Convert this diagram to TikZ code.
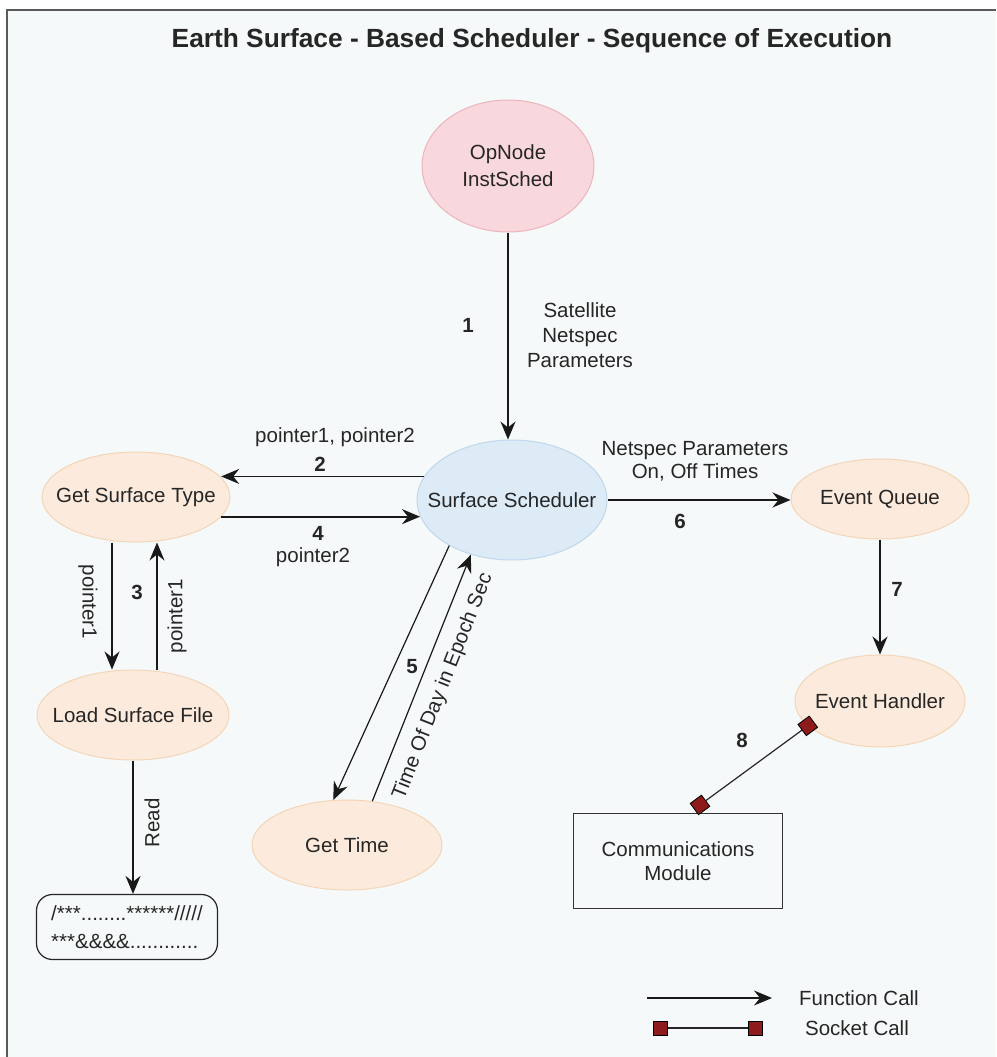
\documentclass[tikz,border=0pt]{standalone}
\usepackage{fontspec}
\setmainfont{Liberation Sans}
\usetikzlibrary{shapes.geometric, arrows.meta, positioning}
\definecolor{pinkfill}{HTML}{F9D8DD}
\definecolor{pinkedge}{HTML}{EDB4BC}
\definecolor{bluefill}{HTML}{DDEBF7}
\definecolor{blueedge}{HTML}{BFD7EC}
\definecolor{tanfill}{HTML}{FCEBDC}
\definecolor{tanedge}{HTML}{F3D5B7}
\definecolor{sockred}{HTML}{8E1B1B}
\definecolor{canvas}{HTML}{F6F9F9}
\definecolor{framegray}{HTML}{5A5A5A}
\begin{document}
\begin{tikzpicture}[x=1pt, y=-1pt,
    every node/.style={font=\fontsize{20.5}{25}\selectfont, inner sep=0pt, text=black!85},
    every label/.style={font=\fontsize{20.5}{27}\selectfont, inner sep=0pt, text=black!85, align=center},
    oval/.style={ellipse, draw=tanedge, fill=tanfill, line width=1pt},
    fcall/.style={-{Stealth[length=18pt,width=15pt,inset=6pt]}, line width=1.2pt, black!90},
    scall/.style={line width=1.2pt, black!85},
    sockmark/.style={rectangle, draw=black, fill=sockred, minimum size=14pt, line width=0.8pt},
    stepno/.style={font=\fontsize{20.5}{25}\selectfont\bfseries}]
    \useasboundingbox (0,0) rectangle (996,1057);
    \fill[white] (0,0) rectangle (996,1057);
    \fill[canvas] (7,11) rectangle (996,1057);
    \draw[framegray, line width=2pt] (7,1057) -- (7,10) -- (996,10);
    \node[font=\fontsize{26.3}{30}\selectfont\bfseries, anchor=base] (title) at (532,48) {Earth Surface - Based Scheduler - Sequence of Execution};
    \node[oval, draw=pinkedge, fill=pinkfill, minimum width=172pt, minimum height=132pt, label=center:{OpNode\\InstSched}] (opnode) at (508,166) {};
    \node[oval, draw=blueedge, fill=bluefill, minimum width=190pt, minimum height=120pt, label=center:{Surface Scheduler}] (sched) at (512,500) {};
    \node[oval, minimum width=188pt, minimum height=90pt, label=center:{Get Surface Type}] (gst) at (136,497) {};
    \node[oval, minimum width=192pt, minimum height=90pt, label=center:{Load Surface File}] (lsf) at (133,715) {};
    \node[oval, minimum width=190pt, minimum height=90pt, label=center:{Get Time}] (gettime) at (347,845) {};
    \node[oval, minimum width=178pt, minimum height=80pt, label=center:{Event Queue}] (equeue) at (880,499) {};
    \node[oval, minimum width=170pt, minimum height=92pt, label=center:{Event Handler}] (ehandler) at (880,701) {};
    \node[draw=black!80, line width=1.2pt, minimum width=209pt, minimum height=95pt, align=center, font=\fontsize{20.5}{24}\selectfont] (comm) at (678,861) {Communications\\Module};
    \node[draw=black!85, line width=1.2pt, rounded corners=16pt, minimum width=181pt, minimum height=65pt, align=left, font=\fontsize{20.5}{28}\selectfont] (rawfile) at (127,927) {/***........******/////\\***\&\&\&\&............};
    \draw[fcall] (opnode.south) -- (opnode.south |- sched.north);
    \node[stepno] (n1) at (468,325) {1};
    \node[align=center] (satlbl) at (580,335) {Satellite\\Netspec\\Parameters};
    \draw[fcall] (sched.165) -- (gst.13 |- sched.165);
    \node[stepno] (n2) at (320,464) {2};
    \node (ptr12) at (335,437) {pointer1, pointer2};
    \draw[fcall, line width=2.2pt] (gst.-13) -- (sched.190 |- gst.-13);
    \node[stepno] (n4) at (318,533) {4};
    \node (ptr2) at (313,557) {pointer2};
    \draw[fcall] ([xshift=-24pt]gst.south) -- ([xshift=-24pt]gst.south |- lsf.north);
    \draw[fcall] ([xshift=24pt]lsf.north) -- ([xshift=24pt]lsf.north |- gst.south);
    \node[rotate=-90] (ptrdown) at (88,602) {pointer1};
    \node[stepno] (n3) at (137,592) {3};
    \node[rotate=90] (ptrup) at (177,616) {pointer1};
    \draw[fcall] (lsf.south) -- (lsf.south |- rawfile.north);
    \node[rotate=90] (readlbl) at (152,823) {Read};
    \draw[fcall] (sched.216) -- (gettime.107);
    \draw[fcall] (gettime.60) -- (sched.233) node[midway, rotate=68.5, below, inner sep=13pt] (todlbl) {Time Of Day in Epoch Sec};
    \node[stepno] (n5) at (412,667) {5};
    \draw[fcall, line width=1.6pt] (sched.east) -- (sched.east -| equeue.west);
    \node[align=center, font=\fontsize{20.5}{23}\selectfont] (nplbl) at (695,461) {Netspec Parameters\\On, Off Times};
    \node[stepno] (n6) at (680,521) {6};
    \draw[fcall, line width=2.2pt] (equeue.south) -- (ehandler.north);
    \node[stepno] (n7) at (897,589) {7};
    \draw[scall] (ehandler.199) -- ([xshift=22pt,yshift=8pt]comm.north) node[sockmark, pos=0, rotate=36.5] (sqE) {} node[sockmark, pos=1, rotate=36.5] (sqC) {};
    \node[stepno] (n8) at (742,740) {8};
    \coordinate (fcA) at (647,998);
    \coordinate (fcB) at (772,998);
    \draw[fcall] (fcA) -- (fcB);
    \node (fclbl) at (859,998) {Function Call};
    \coordinate (scA) at (660,1028);
    \coordinate (scB) at (755,1028);
    \draw[scall] (scA) -- (scB);
    \node[sockmark] (sqA) at (scA) {};
    \node[sockmark] (sqB) at (scB) {};
    \node (sclbl) at (857,1028) {Socket Call};
\end{tikzpicture}
\end{document}
